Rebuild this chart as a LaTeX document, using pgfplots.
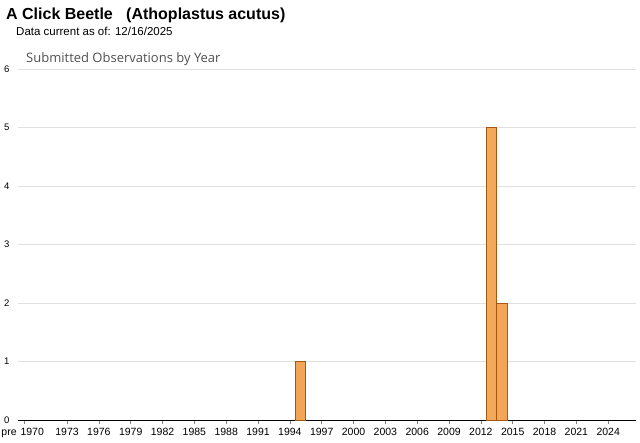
\documentclass[border=0pt]{standalone}
\usepackage{pgfplots}
\pgfplotsset{compat=1.18}
\usepackage{fontspec}
\setmainfont{Liberation Sans}
\newfontfamily\subfont{Open Sans}
\definecolor{barfill}{RGB}{242,164,84}
\definecolor{barlight}{RGB}{248,192,124}
\definecolor{baredge}{RGB}{214,128,46}
\definecolor{barline}{RGB}{166,88,16}
\definecolor{gridc}{RGB}{224,224,224}
\pgfdeclarehorizontalshading{barshade}{100bp}{color(0bp)=(baredge); color(25bp)=(barfill); color(50bp)=(barlight); color(75bp)=(barfill); color(100bp)=(baredge)}
\begin{document}
\begin{tikzpicture}[x=1pt,y=1pt]
\useasboundingbox (0,0) rectangle (640,442);
\node[anchor=base west,inner sep=0pt,font=\fontsize{16}{18}\selectfont\bfseries] at (6,422) {A Click Beetle\ \ \ (Athoplastus acutus)};
\node[anchor=base west,inner sep=0pt,font=\fontsize{11.5}{13}\selectfont] at (16,406) {Data current as of: 12/16/2025};
\node[anchor=base west,inner sep=0pt,font=\subfont\fontsize{13}{15}\selectfont,text={rgb,255:red,80;green,80;blue,80}] at (26,379) {Submitted Observations by Year};
\begin{axis}[
  at={(18pt,22pt)}, anchor=south west,
  scale only axis, width=618pt, height=351pt,
  xmin=-0.62, xmax=57.62, ymin=0, ymax=6,
  ytick={0,1,2,3,4,5,6},
  ymajorgrids, grid style={gridc, line width=0.8pt},
  axis x line*=bottom,
  axis y line*=left,
  y axis line style={draw=none},
  x axis line style={black, line width=1pt, -},
  xtick={0,4,7,...,55},
  xticklabels={\makebox[0pt][c]{\hspace{-31pt}pre}\vphantom{1970},1973,1976,1979,1982,1985,1988,1991,1994,1997,2000,2003,2006,2009,2012,2015,2018,2021,2024},
  extra x ticks={1},
  extra x tick labels={1970},
  extra x tick style={xtick style={draw=none}, xticklabel style={xshift=-3pt}, grid=none},
  major tick length=4pt,
  xtick style={gray, line width=0.6pt},
  ytick style={draw=none},
  tick align=outside,
  ticklabel style={font=\fontsize{10.5}{12}\selectfont},
  yticklabel style={font=\fontsize{9.5}{11}\selectfont, xshift=-1pt},
  xticklabel style={yshift=-1pt},
  /pgf/number format/assume math mode=true,
  clip=false,
]
\addplot[ybar, bar width=1, draw=barline, line width=0.7pt, shading=barshade]
  coordinates {(26,1) (44,5) (45,2)};
\end{axis}
\end{tikzpicture}
\end{document}
